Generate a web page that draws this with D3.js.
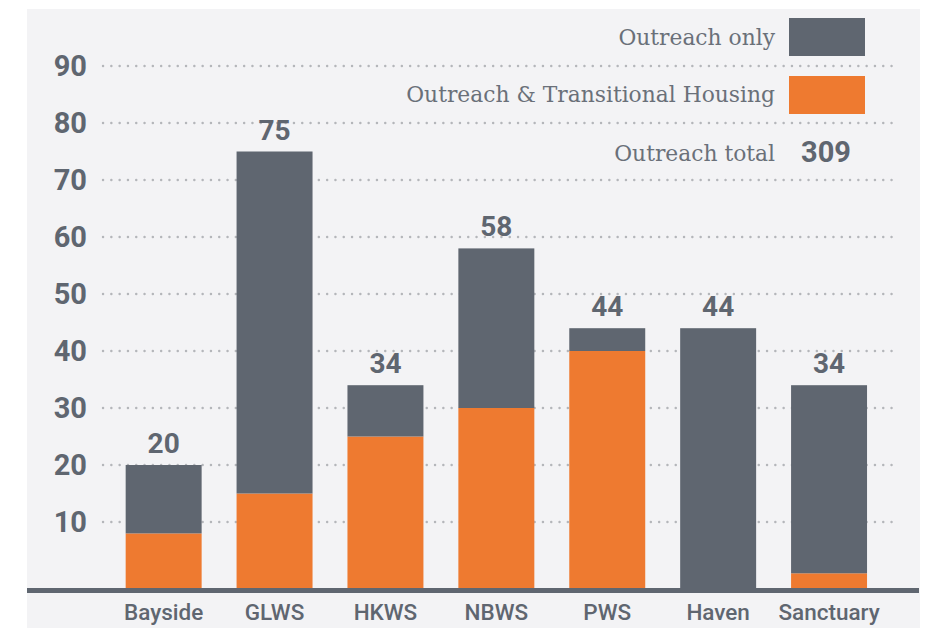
<!DOCTYPE html>
<html>
<head>
<meta charset="utf-8">
<script src="https://cdn.jsdelivr.net/npm/d3@7"></script>
<style>
  body { margin: 0; background: #ffffff; }
  #vis svg { display: block; }
</style>
</head>
<body>
<div id="vis"></div>
<script>
// data
const categories = ['Bayside', 'GLWS', 'HKWS', 'NBWS', 'PWS', 'Haven', 'Sanctuary'];
const transitional = [8, 15, 25, 30, 40, 0, 1];      // Outreach & Transitional Housing
const outreachOnly = [12, 60, 9, 28, 4, 44, 33];     // Outreach only
const yTicks = [10, 20, 30, 40, 50, 60, 70, 80, 90];
const legendLabels = ['Outreach only', 'Outreach & Transitional Housing'];

// colours
const grey = '#5f6670';
const orange = '#ee7a30';
const panel = '#f3f3f5';

let width = 937,
    height = 628;

let svg = d3.select('#vis')
  .append('svg')
  .attr('width', width)
  .attr('height', height);

// light panel behind the chart
svg.append('rect')
  .attr('x', 27)
  .attr('y', 9)
  .attr('width', 893)
  .attr('height', height - 9)
  .attr('fill', panel);

// scales
let x = d3.scaleBand()
  .domain(categories)
  .range([108.2, 884.5])
  .paddingInner(0.315)
  .paddingOuter(0.1575);

let y = d3.scaleLinear()
  .domain([0, 90])
  .range([579, 66]);

let baseY = y(0) + 9; // bars sit on the axis rule

// dotted grid lines
svg.append('g')
  .selectAll('line')
  .data(yTicks)
  .join('line')
  .attr('x1', 103)
  .attr('x2', 898)
  .attr('y1', d => y(d))
  .attr('y2', d => y(d))
  .attr('stroke', '#b4b6ba')
  .attr('stroke-width', 2.4)
  .attr('stroke-linecap', 'round')
  .attr('stroke-dasharray', '0.1 8.2');

// y tick labels
svg.append('g')
  .selectAll('text')
  .data(yTicks)
  .join('text')
  .attr('x', 87)
  .attr('y', d => y(d))
  .attr('dy', '0.36em')
  .attr('text-anchor', 'end')
  .style('font-family', 'Roboto, sans-serif')
  .style('font-weight', 700)
  .style('font-size', '29px')
  .attr('fill', grey)
  .text(d => d);

// stacked bars
let rows = categories.map((c, i) => ({ cat: c, th: transitional[i], only: outreachOnly[i] }));
let series = d3.stack().keys(['th', 'only'])(rows);
let color = d3.scaleOrdinal().domain(['th', 'only']).range([orange, grey]);

svg.append('g')
  .selectAll('g')
  .data(series)
  .join('g')
  .attr('fill', d => color(d.key))
  .selectAll('rect')
  .data(d => d.filter(s => s[1] > s[0]))
  .join('rect')
  .attr('x', d => x(d.data.cat))
  .attr('width', x.bandwidth())
  .attr('y', d => y(d[1]))
  .attr('height', d => (d[0] === 0 ? baseY : y(d[0])) - y(d[1]));

// totals above bars
svg.append('g')
  .selectAll('text')
  .data(rows)
  .join('text')
  .attr('x', d => x(d.cat) + x.bandwidth() / 2)
  .attr('y', d => y(d.th + d.only) - 12)
  .attr('text-anchor', 'middle')
  .style('font-family', 'Roboto, sans-serif')
  .style('font-weight', 700)
  .style('font-size', '28px')
  .attr('fill', grey)
  .text(d => d.th + d.only);

// axis rule
svg.append('rect')
  .attr('x', 27)
  .attr('y', baseY)
  .attr('width', 892)
  .attr('height', 5)
  .attr('fill', grey);

// category labels
svg.append('g')
  .selectAll('text')
  .data(categories)
  .join('text')
  .attr('x', d => x(d) + x.bandwidth() / 2)
  .attr('y', 620)
  .attr('text-anchor', 'middle')
  .style('font-family', 'Roboto, sans-serif')
  .style('font-weight', 500)
  .style('font-size', '22.5px')
  .attr('fill', grey)
  .text(d => d);

// legend
let legend = svg.append('g');
let swatchColors = [grey, orange];
let legendRows = [37, 95];

legend.selectAll('rect')
  .data(legendLabels)
  .join('rect')
  .attr('x', 789)
  .attr('y', (d, i) => legendRows[i] - 19)
  .attr('width', 76)
  .attr('height', 38)
  .attr('fill', (d, i) => swatchColors[i]);

legend.selectAll('text')
  .data(legendLabels.concat(['Outreach total']))
  .join('text')
  .attr('x', 775)
  .attr('y', (d, i) => [45, 102, 161][i])
  .attr('text-anchor', 'end')
  .style('font-family', '"DejaVu Serif", serif')
  .style('font-size', '21.8px')
  .attr('fill', '#6a7079')
  .text(d => d);

legend.append('text')
  .attr('x', 801)
  .attr('y', 162)
  .style('font-family', 'Roboto, sans-serif')
  .style('font-weight', 700)
  .style('font-size', '29px')
  .attr('fill', grey)
  .text(d3.sum(transitional) + d3.sum(outreachOnly));
</script>
</body>
</html>
